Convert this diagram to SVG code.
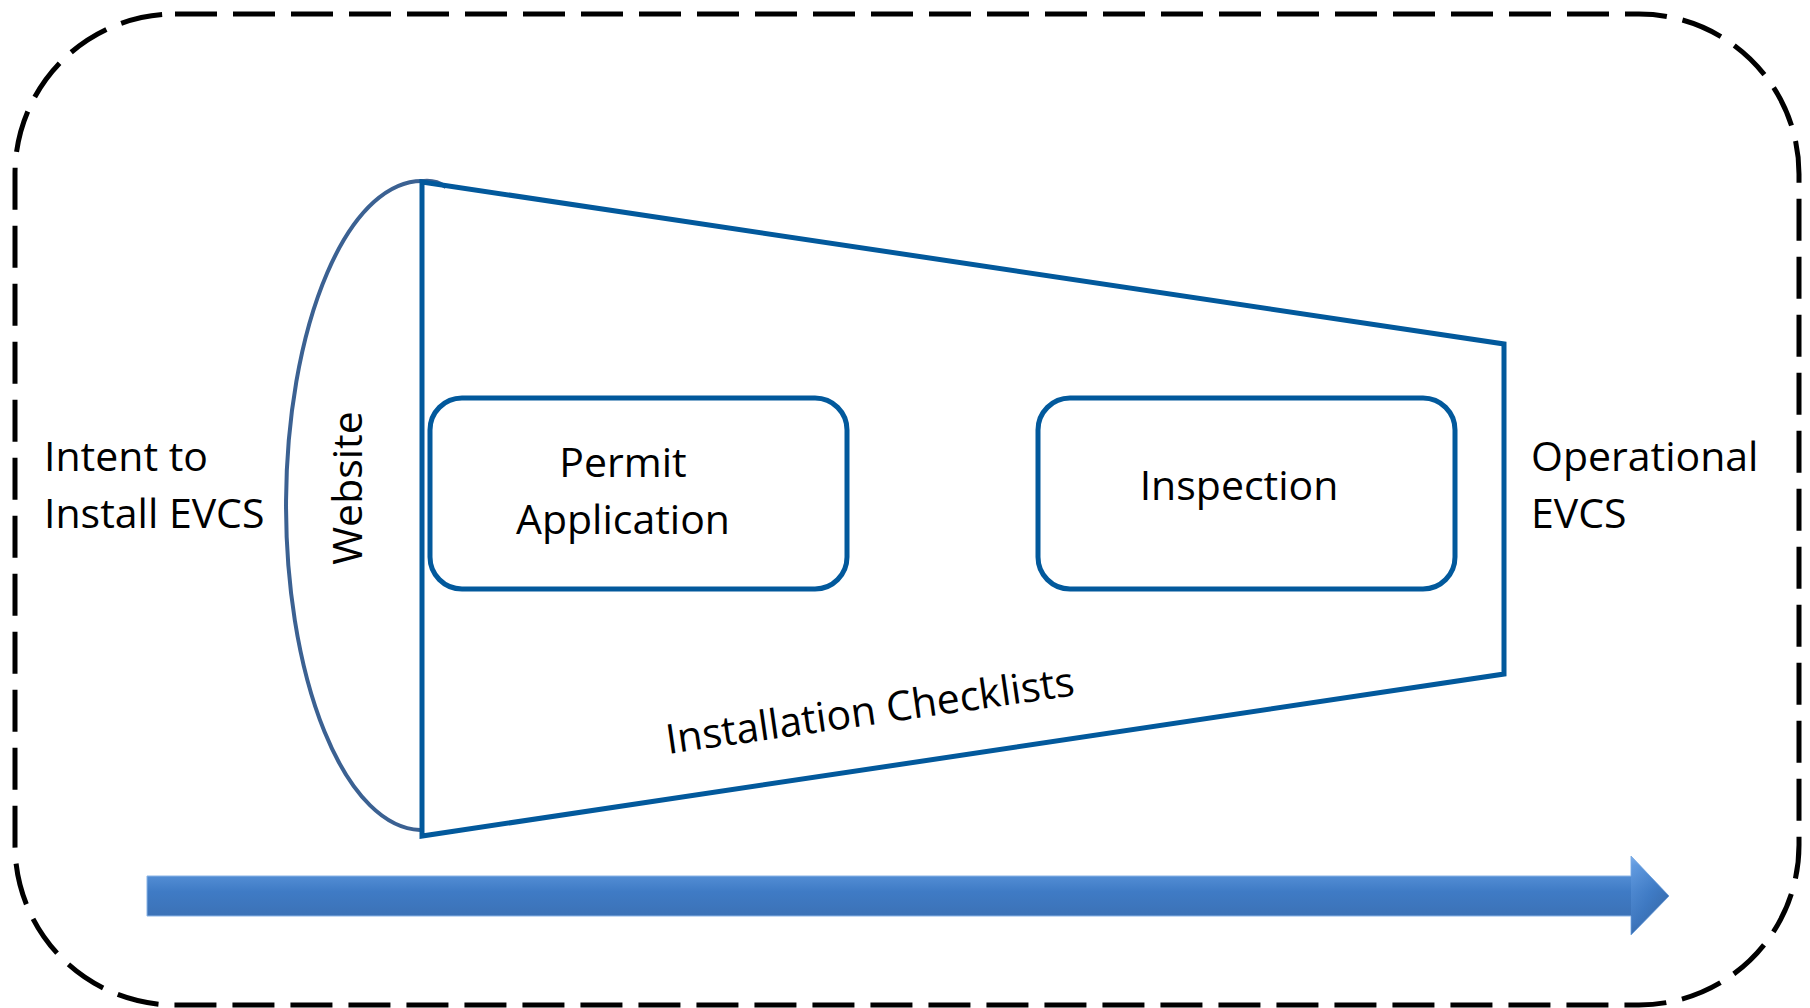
<svg xmlns="http://www.w3.org/2000/svg" width="1810" height="1008" viewBox="0 0 1810 1008">
<defs>
<style>
.lbl{font-family:"Open Sans","Liberation Sans",sans-serif;font-size:41px;fill:#000;}
.box{fill:#fff;stroke:#02599C;stroke-width:5;}
.funnel{fill:none;stroke:#02599C;stroke-width:5;stroke-linejoin:miter;}
</style>
<linearGradient id="gBody" x1="0" y1="0" x2="0" y2="1">
<stop offset="0" stop-color="#9CC4F2"/>
<stop offset="0.12" stop-color="#5F99DE"/>
<stop offset="0.45" stop-color="#3F7BC5"/>
<stop offset="0.85" stop-color="#3B6FB2"/>
<stop offset="1" stop-color="#2E5A90"/>
</linearGradient>
<linearGradient id="gHead" x1="0" y1="0" x2="1" y2="1">
<stop offset="0" stop-color="#6AA2E6"/>
<stop offset="0.5" stop-color="#3F7BC5"/>
<stop offset="1" stop-color="#2E5A90"/>
</linearGradient>
</defs>
<rect width="1810" height="1008" fill="#fff"/>
<rect id="frame" x="15" y="14" width="1784" height="991" rx="160" ry="160" fill="none" stroke="#000" stroke-width="5" stroke-dasharray="42 16"/>
<g id="website-arc">
<path d="M446,187 Q436,180 424,181 A136 324.5 0 0 0 420 830" fill="none" stroke="#3B6192" stroke-width="4"/>
<text class="lbl" transform="translate(362,488) rotate(-90)" text-anchor="middle" font-size="43">Website</text>
</g>
<g id="funnel">
<polygon class="funnel" points="422,182 1504,344 1504,674 422,836"/>
<text class="lbl" transform="translate(668,754) rotate(-8.2)">Installation Checklists</text>
</g>
<g id="permit">
<rect class="box" x="430" y="398" width="417" height="191" rx="32" ry="32"/>
<text class="lbl" x="623" y="477" text-anchor="middle">Permit</text>
<text class="lbl" x="623" y="534" text-anchor="middle">Application</text>
</g>
<g id="inspection">
<rect class="box" x="1038" y="398" width="417" height="191" rx="32" ry="32"/>
<text class="lbl" x="1239" y="500" text-anchor="middle">Inspection</text>
</g>
<g id="intent">
<text class="lbl" x="44" y="471">Intent to</text>
<text class="lbl" x="44" y="528">Install EVCS</text>
</g>
<g id="operational">
<text class="lbl" x="1531" y="471">Operational</text>
<text class="lbl" x="1531" y="528">EVCS</text>
</g>
<g id="connectors">
<path d="M147,876 L1631,876 L1631,856 L1669,896 L1631,935 L1631,916 L147,916 Z" fill="url(#gBody)" stroke="#8AB4E6" stroke-width="1"/>
<path d="M1631,856 L1669,896 L1631,935 Z" fill="url(#gHead)" opacity="0.6"/>
</g>
</svg>
